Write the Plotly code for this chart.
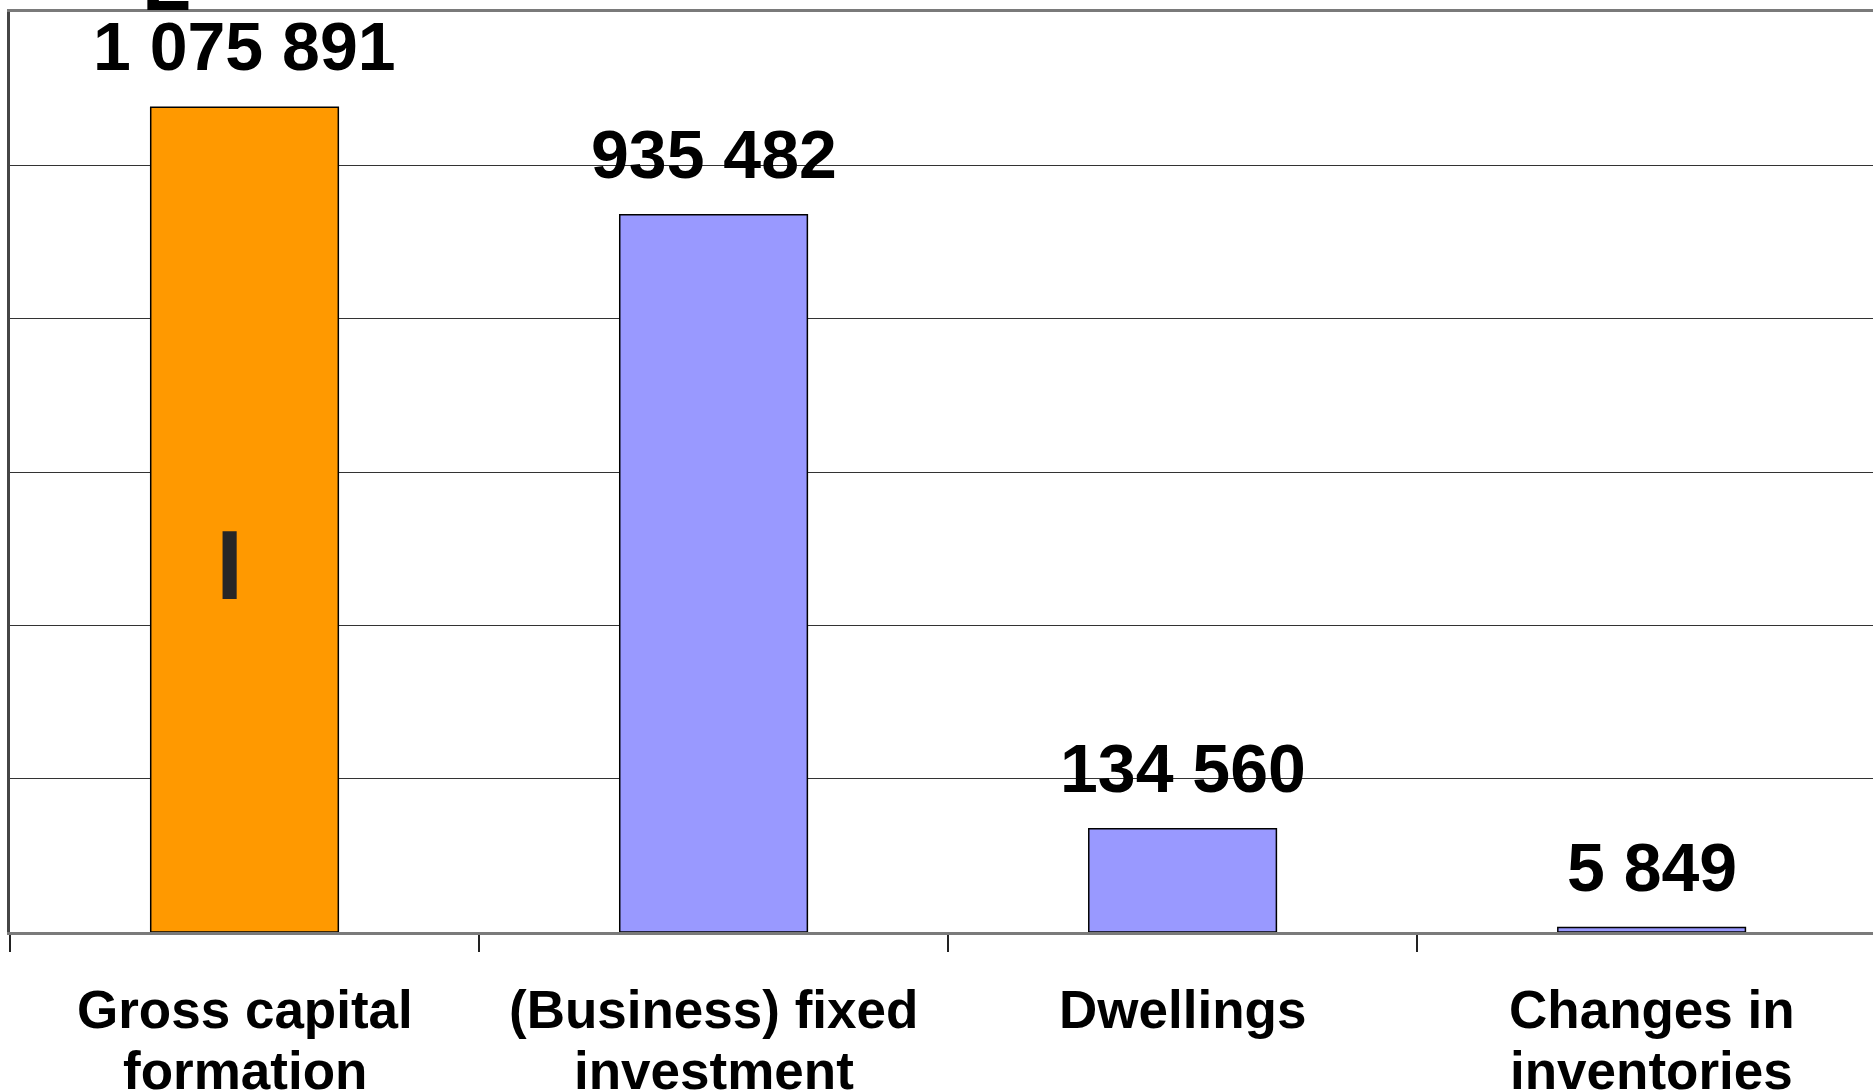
import plotly.graph_objects as go

categories = ["Gross capital formation", "(Business) fixed investment", "Dwellings", "Changes in inventories"]
tick_labels = ["Gross capital<br>formation", "(Business) fixed<br>investment", "Dwellings", "Changes in<br>inventories"]
values = [1075891, 935482, 134560, 5849]
value_labels = ["1 075 891", "935 482", "134 560", "5 849"]
bar_colors = ["#FF9900", "#9999FF", "#9999FF", "#9999FF"]

FONT = "Liberation Sans, Arial, sans-serif"

fig = go.Figure()
fig.add_trace(go.Bar(
    x=categories, y=values, width=0.4,
    marker=dict(color=bar_colors, line=dict(color="black", width=1.5)),
    hoverinfo="skip",
))

for c, v, t in zip(categories, values, value_labels):
    fig.add_annotation(x=c, y=v, text=t, showarrow=False, yanchor="bottom", yshift=21,
                       font=dict(family=FONT, size=68, color="black", weight="bold"))

# category labels (tight line spacing as in the original)
for c, lab in zip(categories, tick_labels):
    for i, line in enumerate(lab.split("<br>")):
        fig.add_annotation(x=c, xref="x", yref="paper", y=0, yanchor="middle",
                           yshift=-77 - 61 * i, text=line, showarrow=False,
                           font=dict(family=FONT, size=53, color="black", weight="bold"))

# stray glyphs present in the original picture
fig.add_annotation(xref="paper", yref="paper", x=(229.5 - 10) / 1863, y=(931.7 - 565) / 919.2,
                   text="I", showarrow=False, xanchor="center", yanchor="middle",
                   font=dict(family=FONT, size=98, color="#262626", weight="bold"))
fig.add_annotation(xref="paper", yref="paper", x=(140 - 10) / 1863, y=1, yshift=-17,
                   text="L", showarrow=False, xanchor="left", yanchor="bottom",
                   font=dict(family=FONT, size=80, color="black", weight="bold"))

fig.update_layout(
    width=1873, height=1090,
    margin=dict(l=10, r=0, t=12, b=158),
    paper_bgcolor="white", plot_bgcolor="white",
    showlegend=False,
)
fig.update_xaxes(
    range=[-0.5, 3.472],
    tickvals=categories, showticklabels=False,
    tickson="boundaries", ticks="outside", ticklen=17, tickcolor="#222222", tickwidth=1.5,
    showline=True, linecolor="#7a7a7a", linewidth=2.5, mirror=True,
    showgrid=False, automargin=False,
)
fig.update_yaxes(
    range=[0, 1200000], dtick=200000,
    showticklabels=False, ticks="", automargin=False,
    showgrid=True, gridcolor="#333333", gridwidth=1,
    showline=True, linecolor="#454545", linewidth=2.5,
    zeroline=False,
)

fig.write_html("out.html")
